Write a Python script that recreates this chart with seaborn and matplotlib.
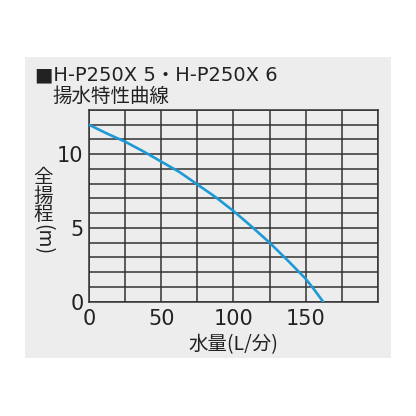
import matplotlib
matplotlib.use("Agg")

import matplotlib.pyplot as plt
import pandas as pd
import seaborn as sns
from matplotlib.patches import Rectangle

# pump curve (flow L/min vs total head m)
flow = [0, 12.5, 25, 37.5, 50, 62.5, 75, 87.5, 100, 112.5, 125, 137.5, 150, 156, 162]
head = [12.0, 11.4, 10.85, 10.2, 9.5, 8.8, 7.95, 7.1, 6.15, 5.1, 4.0, 2.8, 1.55, 0.8, 0.0]

x_ticks = [0, 50, 100, 150]
y_ticks = [0, 5, 10]
x_grid = list(range(0, 201, 25))
y_grid = list(range(0, 14))

title = "■H-P250X 5・H-P250X 6"
subtitle = "揚水特性曲線"
xlabel = "水量(L/分)"
ylabel_chars = ["全", "揚", "程"]
ylabel_unit = "(m)"

BG = "#ededed"
GRID = "#333333"
BLUE = "#1d9ad6"
TXT = "#222222"

sns.set_style("white")
# latin glyphs from DejaVu (wide, like the original), kana/kanji from Noto CJK
plt.rcParams["font.family"] = ["DejaVu Sans", "Noto Sans CJK JP"]
CJK = ["Noto Sans CJK JP", "DejaVu Sans"]

df = pd.DataFrame({"flow": flow, "head": head})

fig = plt.figure(figsize=(4.16, 4.16), dpi=100)
fig.patch.set_facecolor("white")
panel = Rectangle((0.060, 0.139), 0.880, 0.724, transform=fig.transFigure,
                  facecolor=BG, edgecolor="none", zorder=-10)
fig.add_artist(panel)

ax = fig.add_axes([0.2139, 0.2748, 0.6947, 0.4608])
ax.set_zorder(5)
ax.set_facecolor(BG)

sns.lineplot(data=df, x="flow", y="head", ax=ax, color=BLUE, linewidth=1.9, zorder=3)

ax.set_xlim(0, 200)
ax.set_ylim(0, 13)
for gx in x_grid:
    ax.axvline(gx, color=GRID, linewidth=1.1, zorder=2)
for gy in y_grid:
    ax.axhline(gy, color=GRID, linewidth=1.1, zorder=2)
for s in ax.spines.values():
    s.set_color(GRID)
    s.set_linewidth(1.1)

ax.set_xticks(x_ticks)
ax.set_yticks(y_ticks)
ax.tick_params(length=0, labelsize=15, colors=TXT)
ax.tick_params(axis="x", pad=5)
ax.tick_params(axis="y", pad=4)
ax.set_xlabel(xlabel, fontsize=14, color=TXT, labelpad=4, family=CJK)
ax.set_ylabel("")

fig.text(0.084, 0.8197, title, fontsize=14, color=TXT, va="center", ha="left")
fig.text(0.125, 0.767, subtitle, fontsize=14, color=TXT, va="center", ha="left",
         family=CJK)

# vertical japanese y label
for ch, yy in zip(ylabel_chars, [0.5745, 0.5288, 0.4832]):
    fig.text(0.1034, yy, ch, fontsize=14, color=TXT, ha="center", va="center", family=CJK)
fig.text(0.1034, 0.424, ylabel_unit, fontsize=14, color=TXT, ha="center", va="center",
         rotation=-90, family=CJK)

plt.savefig("out.png", dpi=100)
plt.close()
